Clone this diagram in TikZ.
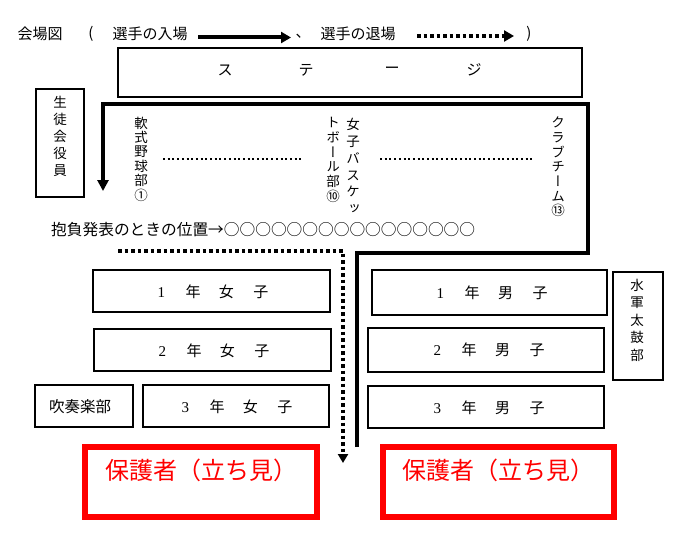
\documentclass[tikz,border=0pt]{standalone}
\usepackage{fontspec}
\setmainfont{Noto Sans CJK JP}
\newfontfamily\vjp[RawFeature=+vert]{Noto Sans CJK JP}
\newfontfamily\dg{Liberation Serif}
\usetikzlibrary{arrows.meta}
\newcommand\grp[4]{{\dg #1}\hspace{20.5pt}#2\hspace{18.5pt}#3\hspace{19.5pt}#4}
\begin{document}
\begin{tikzpicture}[x=1pt,y=-1pt,
  txt/.style={inner sep=0pt, font=\fontsize{15}{18}\selectfont},
  box/.style={draw, line width=1.2pt, inner sep=0pt},
  redbox/.style={draw=red, line width=6pt, inner sep=0pt},
  vlabel/.style={inner sep=0pt, align=center, font=\vjp\fontsize{13.5}{#1}\selectfont},
  entryline/.style={line width=4pt, line join=miter, -{Triangle[length=11pt,width=11pt]}},
  exitline/.style={line width=4pt, dash pattern=on 3.5pt off 3pt, -{Triangle[length=9pt,width=10pt]}},
  fineline/.style={line width=2pt, dash pattern=on 2pt off 2.7pt}
]
\useasboundingbox (0,0) rectangle (695,543);
\fill[white] (0,0) rectangle (695,543);

% header legend
\node[txt] (title) at (40,34) {会場図};
\node[txt] (lp) at (91,34) {(};
\node[txt] (enter) at (150,34) {選手の入場};
\coordinate (ea) at (198,37.5);
\coordinate (eb) at (291,37.5);
\draw[line width=4pt, -{Triangle[length=10pt,width=11pt]}] (ea) -- (eb);
\node[txt] (comma) at (303,36) {、};
\node[txt] (leave) at (358,34) {選手の退場};
\coordinate (xa) at (417,36);
\coordinate (xb) at (514,36);
\draw[line width=4pt, dash pattern=on 3.5pt off 3pt, -{Triangle[length=10pt,width=11pt]}] (xa) -- (xb);
\node[txt] (rp) at (529,34) {)};

% stage
\node[box, minimum width=464pt, minimum height=49pt] (stage) at (350,72.5) {};
\node[txt] (s1) at (225,70) {ス};
\node[txt] (s2) at (306,70) {テ};
\node[txt] (s3) at (392,70) {ー};
\node[txt] (s4) at (474,70) {ジ};

% student council
\node[box, minimum width=48pt, minimum height=108pt] (council) at (60,143) {};
\node[vlabel=17] (councilt) at (60,136) {生\\徒\\会\\役\\員};

% club labels
\node[vlabel=14.4] (c1) at (141,159) {軟\\式\\野\\球\\部\\①};
\node[vlabel=16.8] (c10a) at (353,166) {女\\子\\バ\\ス\\ケ\\ッ};
\node[vlabel=14.8] (c10b) at (333,160) {ト\\ボ\\ー\\ル\\部\\⑩};
\node[vlabel=14.7] (c13) at (558,167) {ク\\ラ\\ブ\\チ\\ー\\ム\\⑬};
\draw[fineline] (163,159) -- (303,159);
\draw[fineline] (380,159) -- (535,159);

% speech positions
\node[inner sep=0pt, anchor=west, font=\fontsize{15.7}{18}\selectfont] (speech) at (51,230)
  {抱負発表のときの位置→○○○○○○○○○○○○○○○○};

% entry path (solid)
\coordinate (p0) at (357,447);
\coordinate (p1) at (357,253);
\coordinate (p2) at (588,253);
\coordinate (p3) at (588,104);
\coordinate (p4) at (103,104);
\coordinate (p5) at (103,191);
\draw[entryline] (p0) -- (p1) -- (p2) -- (p3) -- (p4) -- (p5);

% exit path (dotted)
\coordinate (q0) at (118,251);
\coordinate (q1) at (343,251);
\coordinate (q2) at (343,463);
\draw[exitline] (q0) -- (q1) -- (q2);

% girls
\node[box, minimum width=237pt, minimum height=42pt] (g1) at (211.5,291) {};
\node[txt] (g1t) at (213,292) {\grp{1}{年}{女}{子}};
\node[box, minimum width=237pt, minimum height=42pt] (g2) at (212.5,350) {};
\node[txt] (g2t) at (214,351) {\grp{2}{年}{女}{子}};
\node[box, minimum width=98pt, minimum height=42pt] (brass) at (84,406) {};
\node[txt, font=\fontsize{15.5}{18}\selectfont] (brasst) at (80,407) {吹奏楽部};
\node[box, minimum width=186pt, minimum height=42pt] (g3) at (236,406) {};
\node[txt] (g3t) at (237,407) {\grp{3}{年}{女}{子}};

% boys
\node[box, minimum width=235pt, minimum height=45pt] (b1) at (489.5,292.5) {};
\node[txt] (b1t) at (492,293) {\grp{1}{年}{男}{子}};
\node[box, minimum width=236pt, minimum height=44pt] (b2) at (486,350) {};
\node[txt] (b2t) at (489,350) {\grp{2}{年}{男}{子}};
\node[box, minimum width=236pt, minimum height=42pt] (b3) at (486,407) {};
\node[txt] (b3t) at (489,408) {\grp{3}{年}{男}{子}};

% drum club
\node[box, minimum width=50pt, minimum height=108pt] (drum) at (638,326) {};
\node[vlabel=17.5] (drumt) at (637,320) {水\\軍\\太\\鼓\\部};

% guardians
\node[redbox, minimum width=232pt, minimum height=70pt] (r1) at (201,482) {};
\node[inner sep=0pt, anchor=west, text=red, font=\fontsize{24}{28}\selectfont] (r1t) at (105,470) {保護者（立ち見）};
\node[redbox, minimum width=231pt, minimum height=70pt] (r2) at (498.5,482) {};
\node[inner sep=0pt, anchor=west, text=red, font=\fontsize{24}{28}\selectfont] (r2t) at (402,470) {保護者（立ち見）};
\end{tikzpicture}
\end{document}
